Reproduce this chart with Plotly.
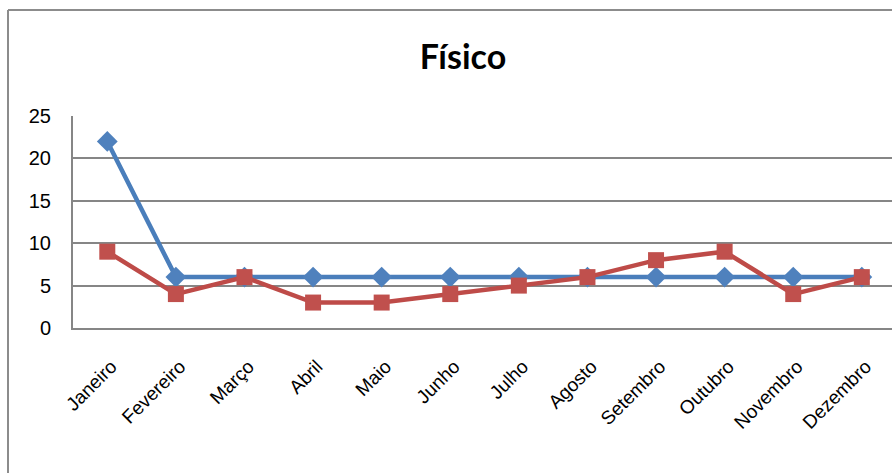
import plotly.graph_objects as go

months = ["Janeiro", "Fevereiro", "Março", "Abril", "Maio", "Junho",
          "Julho", "Agosto", "Setembro", "Outubro", "Novembro", "Dezembro"]
serie_azul = [22, 6, 6, 6, 6, 6, 6, 6, 6, 6, 6, 6]
serie_vermelha = [9, 4, 6, 3, 3, 4, 5, 6, 8, 9, 4, 6]
y_ticks = [0, 5, 10, 15, 20, 25]

W, H = 892, 473
L, R, T, B = 73, 0, 116, 145
pw, ph = W - L - R, H - T - B

FONT = "Liberation Sans Narrow, Liberation Sans, Arial, sans-serif"

fig = go.Figure()
fig.add_trace(go.Scatter(
    x=list(range(len(months))), y=serie_azul, mode="lines+markers",
    line=dict(color="#4A7EBB", width=4.5),
    marker=dict(symbol="diamond", size=16, color="#4F81BD"),
    showlegend=False))
fig.add_trace(go.Scatter(
    x=list(range(len(months))), y=serie_vermelha, mode="lines+markers",
    line=dict(color="#BE4B48", width=4.5),
    marker=dict(symbol="square", size=16, color="#C0504D"),
    showlegend=False))

fig.update_layout(
    width=W, height=H,
    margin=dict(l=L, r=R, t=T, b=B, pad=0),
    paper_bgcolor="white", plot_bgcolor="white",
    font=dict(family=FONT, color="black", size=18),
    title=dict(text="<b>Físico</b>", x=463 / W, xanchor="center",
               y=1 - 57 / H, yanchor="middle",
               font=dict(size=34, family="Lato, Liberation Sans, sans-serif")),
    xaxis=dict(
        tickmode="array", tickvals=list(range(len(months))), ticktext=months,
        range=[-0.5, 11.44], tickangle=-45, showgrid=False,
        showline=True, linecolor="#868686", linewidth=2,
        ticks="", ticklabelstandoff=18, ticklabelshift=4, zeroline=False,
        tickfont=dict(size=19, family=FONT)),
    yaxis=dict(
        range=[0, 25], tickvals=y_ticks, showgrid=True,
        gridcolor="#868686", gridwidth=2,
        showline=True, linecolor="#868686", linewidth=2,
        ticks="", ticklabelstandoff=16, zeroline=False,
        tickfont=dict(size=20, family=FONT)),
)

# outer chart border (partially cropped in reference)
x0 = (8 - L) / pw
y1 = (H - B - 10) / ph
fig.add_shape(type="line", xref="paper", yref="paper",
              x0=x0, x1=x0, y0=-(B + 5) / ph, y1=y1,
              line=dict(color="#8C8C8C", width=2))
fig.add_shape(type="line", xref="paper", yref="paper",
              x0=x0, x1=1 + 5 / pw, y0=y1, y1=y1,
              line=dict(color="#8C8C8C", width=2))

fig.write_html("out.html", config={"displayModeBar": False},
               post_script="document.body.style.margin='0';document.body.style.overflow='hidden';")
